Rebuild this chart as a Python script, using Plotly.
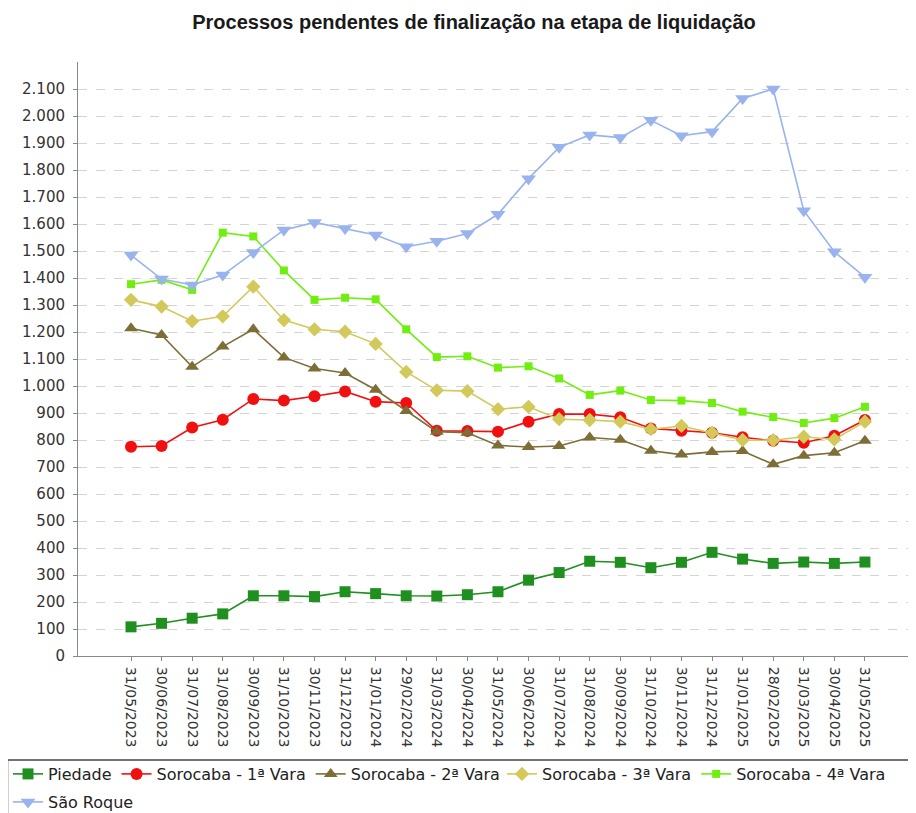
import plotly.graph_objects as go

dates = [
    "31/05/2023", "30/06/2023", "31/07/2023", "31/08/2023", "30/09/2023",
    "31/10/2023", "30/11/2023", "31/12/2023", "31/01/2024", "29/02/2024",
    "31/03/2024", "30/04/2024", "31/05/2024", "30/06/2024", "31/07/2024",
    "31/08/2024", "30/09/2024", "31/10/2024", "30/11/2024", "31/12/2024",
    "31/01/2025", "28/02/2025", "31/03/2025", "30/04/2025", "31/05/2025",
]

piedade = [108, 121, 140, 156, 223, 223, 220, 238, 231, 223, 222, 227, 238,
           281, 309, 351, 347, 327, 347, 384, 359, 343, 348, 343, 348]
sorocaba_1 = [775, 778, 846, 875, 952, 946, 962, 980, 942, 937, 834, 833, 831,
              868, 896, 896, 884, 843, 834, 827, 810, 797, 790, 816, 874]
sorocaba_2 = [1214, 1189, 1071, 1146, 1210, 1106, 1065, 1048, 986, 907, 831,
              827, 780, 774, 778, 809, 801, 760, 746, 756, 759, 710, 742, 753, 797]
sorocaba_3 = [1319, 1294, 1240, 1258, 1368, 1244, 1210, 1201, 1156, 1052, 984,
              981, 914, 923, 877, 874, 868, 840, 852, 827, 800, 799, 812, 802, 868]
sorocaba_4 = [1377, 1393, 1356, 1568, 1554, 1428, 1319, 1327, 1321, 1210, 1107,
              1110, 1068, 1073, 1028, 967, 983, 948, 946, 937, 905, 885, 863, 881, 923]
sao_roque = [1485, 1396, 1374, 1411, 1494, 1578, 1606, 1583, 1559, 1516, 1536,
             1565, 1636, 1768, 1884, 1930, 1920, 1984, 1927, 1942, 2065, 2100,
             1649, 1497, 1403]

y_ticks = list(range(0, 2200, 100))
y_labels = [f"{v:,}".replace(",", ".") for v in y_ticks]

# name, values, colour, marker symbol, marker size, legend block
series = [
    ("Piedade", piedade, "#1f8f1f", "square", 11, "legend"),
    ("Sorocaba - 1ª Vara", sorocaba_1, "#f01010", "circle", 12, "legend"),
    ("Sorocaba - 2ª Vara", sorocaba_2, "#7d6e36", "triangle-up", 12, "legend"),
    ("Sorocaba - 3ª Vara", sorocaba_3, "#d2c95a", "diamond", 11, "legend3"),
    ("Sorocaba - 4ª Vara", sorocaba_4, "#70ee10", "square", 8, "legend3"),
    ("São Roque", sao_roque, "#99b3ee", "triangle-down", 13, "legend2"),
]

# the page body adds an 8px offset, so the figure is 8px smaller and
# every pixel position below is the reference position minus 8
W, H = 908, 805
L, T, B = 70, 54, 157
plot_w, plot_h = W - L, H - T - B

fig = go.Figure()
for name, values, color, symbol, size, leg in series:
    fig.add_trace(go.Scatter(
        x=dates, y=values, name=name, mode="lines+markers", legend=leg,
        line=dict(color=color, width=1.6),
        marker=dict(symbol=symbol, size=size, color=color),
    ))

legend_font = dict(family="DejaVu Sans", size=16, color="#222")


def legend_block(x_px, y_px):
    return dict(
        orientation="h", xref="container", yref="container",
        x=x_px / W, xanchor="left", y=1 - y_px / H, yanchor="middle",
        font=legend_font, bgcolor="rgba(0,0,0,0)", borderwidth=0,
    )


fig.update_layout(
    width=W, height=H,
    margin=dict(l=L, r=0, t=T, b=B),
    paper_bgcolor="white", plot_bgcolor="white",
    title=dict(
        text="<b>Processos pendentes de finalização na etapa de liquidação</b>",
        font=dict(family="Liberation Sans", size=20, color="#1a1a1a"),
        x=466 / W, xanchor="center", y=1 - 14 / H, yanchor="middle",
    ),
    xaxis=dict(
        type="category", range=[-1.733, 25.67],
        tickangle=90, tickfont=dict(family="DejaVu Sans", size=14, color="#333"),
        ticklabelstandoff=3,
        showgrid=False, showline=True, linecolor="#888", linewidth=1,
        ticks="outside", ticklen=4, tickcolor="#888",
    ),
    yaxis=dict(
        range=[0, 2200], tickvals=y_ticks, ticktext=y_labels,
        tickfont=dict(family="DejaVu Sans", size=15, color="#333"),
        ticklabelstandoff=5,
        showgrid=True, gridcolor="#d4d4d4", griddash="dash", gridwidth=1,
        showline=True, linecolor="#888", linewidth=1,
        ticks="outside", ticklen=4, tickcolor="#888", zeroline=False,
    ),
    legend=legend_block(-3, 766),
    legend3=legend_block(494, 766),
    legend2=legend_block(-3, 794),
)

# legend frame, running off the right and bottom edges like the original
frame_top = (T + plot_h - 752) / plot_h
frame_bottom = (T + plot_h - (H + 2)) / plot_h
frame_left = (-0.5 - L) / plot_w
frame_right = (W + 2 - L) / plot_w
fig.add_shape(
    type="rect", xref="paper", yref="paper", layer="below",
    x0=frame_left, x1=frame_right, y0=frame_bottom, y1=frame_top,
    line=dict(color="#444", width=1.5),
)

fig.write_html("out.html")
